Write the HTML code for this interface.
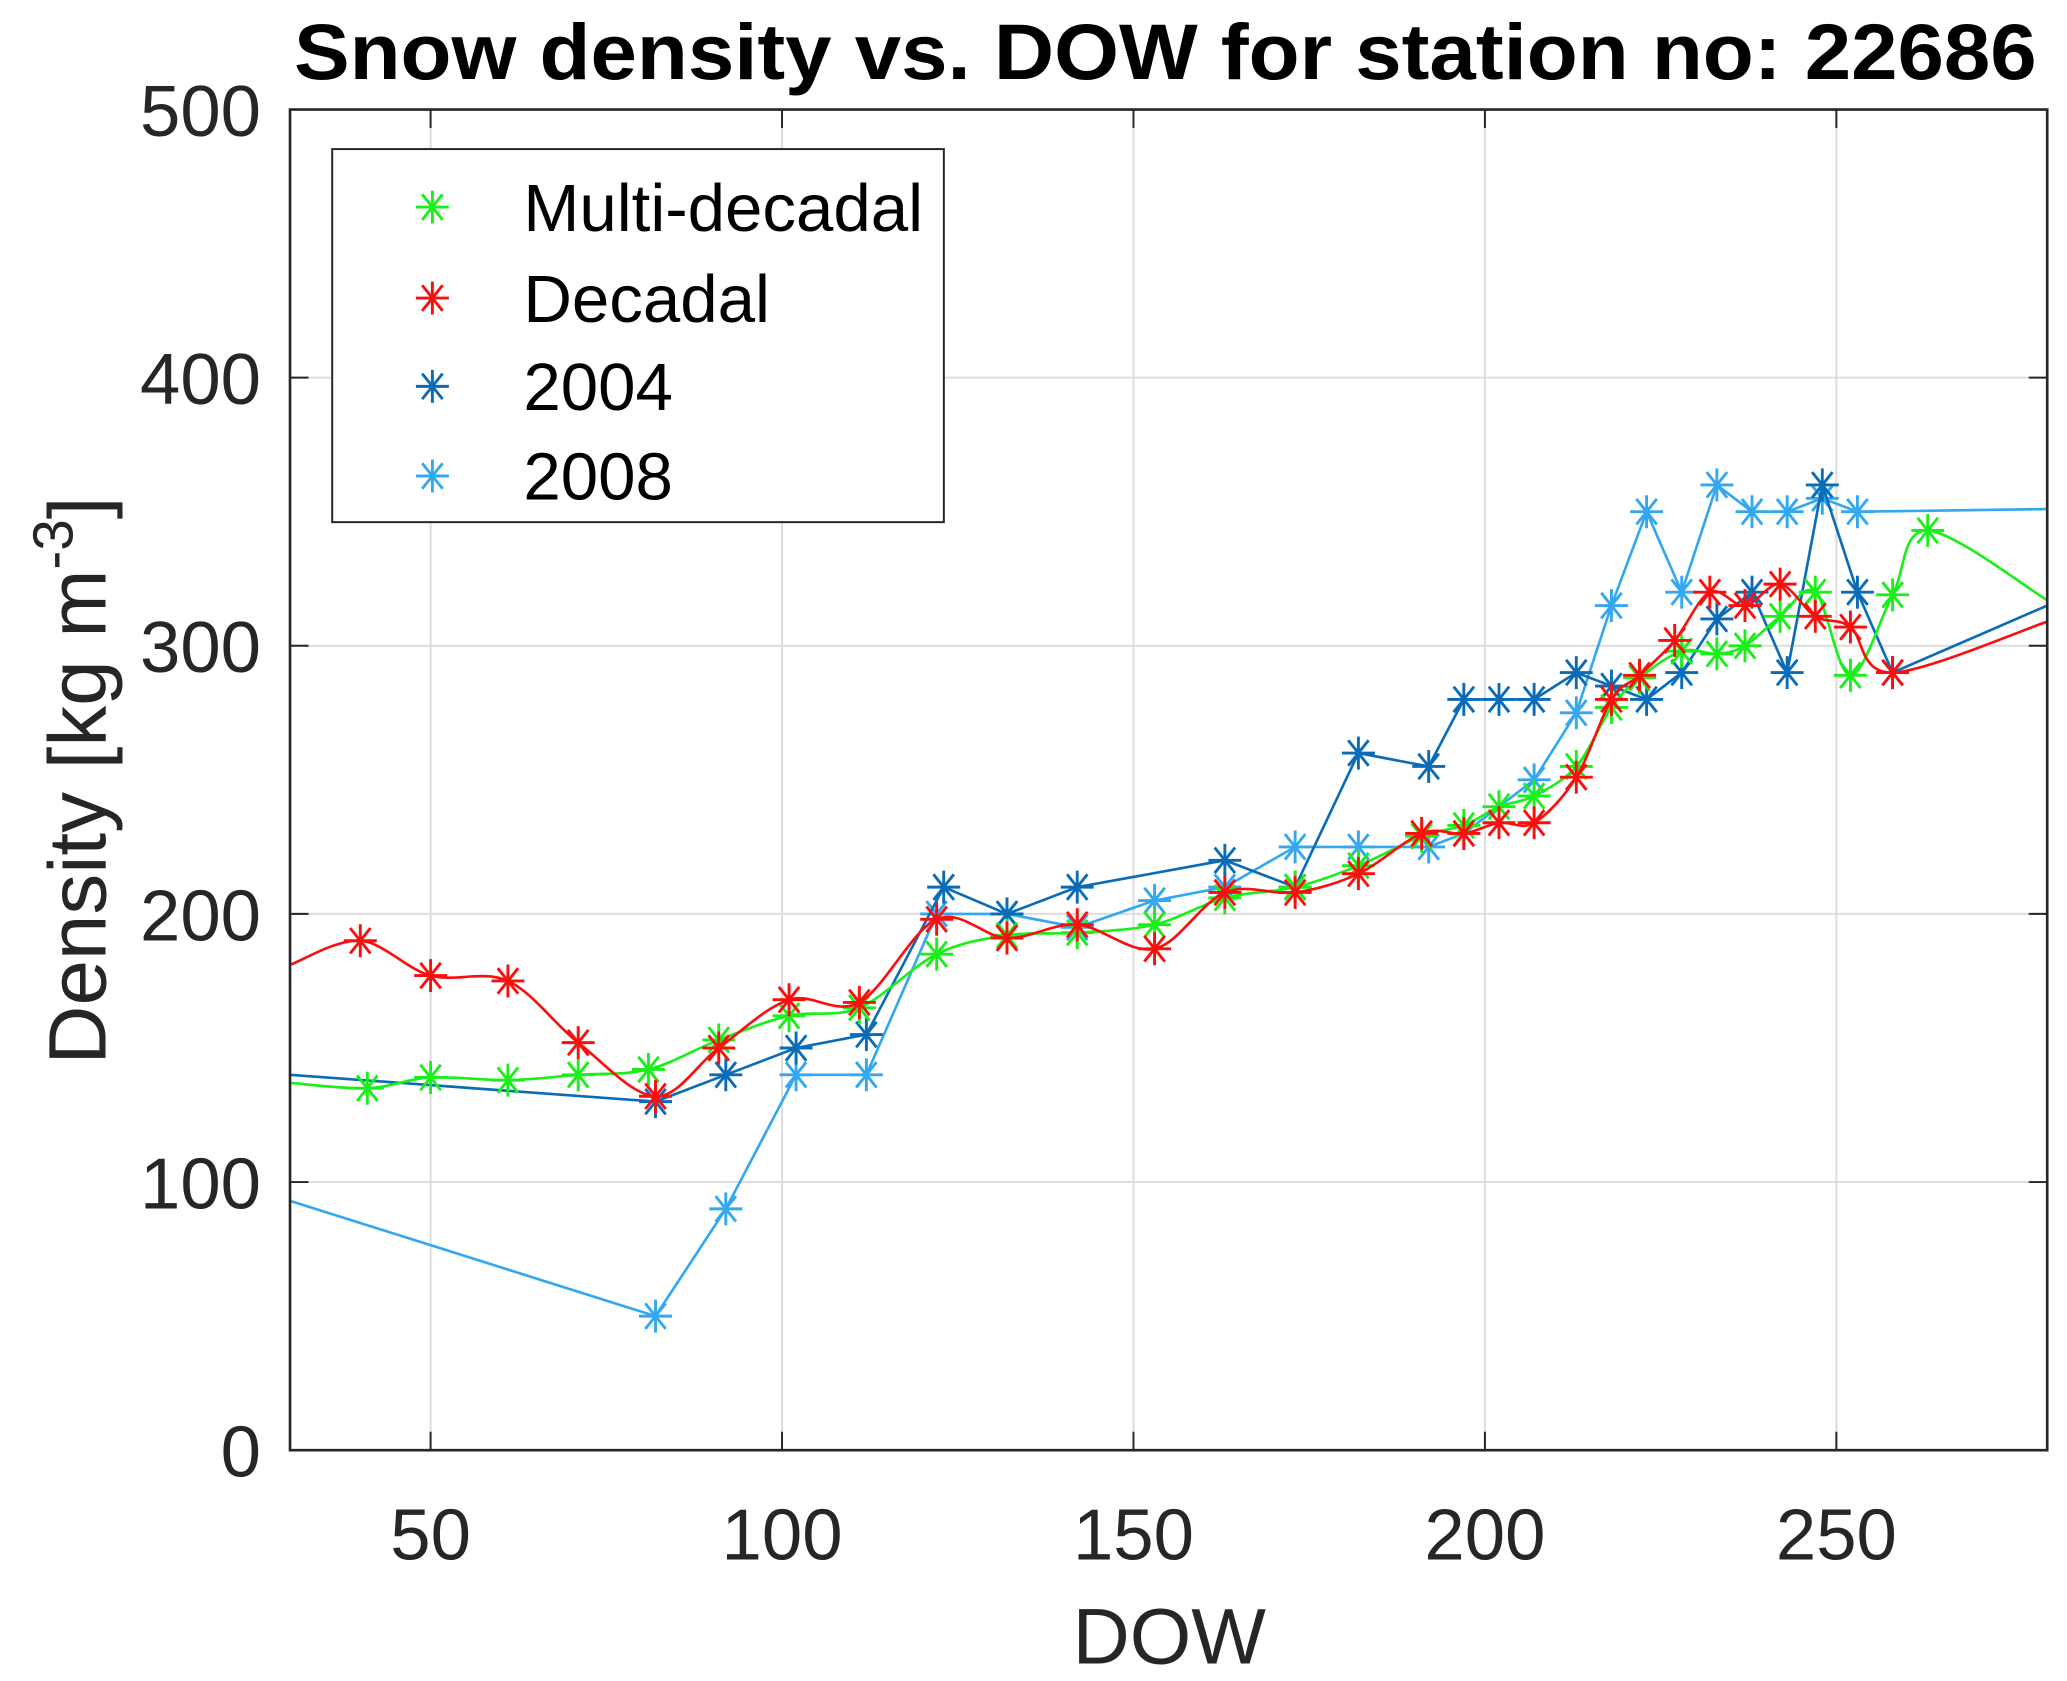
<!DOCTYPE html>
<html><head><meta charset="utf-8"><title>Snow density vs. DOW</title>
<style>html,body{margin:0;padding:0;background:#fff}svg{display:block}</style></head>
<body>
<svg id="chart" width="2067" height="1681" viewBox="0 0 1568 1275" xmlns="http://www.w3.org/2000/svg" font-family="'Liberation Sans', Arial, sans-serif">
<defs><clipPath id="plotclip"><rect x="220" y="83" width="1333" height="1017"/></clipPath></defs>
<rect x="0" y="0" width="1568" height="1275" fill="#fff"/>
<text x="223" y="60" textLength="1322" lengthAdjust="spacingAndGlyphs" font-size="60" font-weight="bold" fill="#000">Snow density vs. DOW for station no: 22686</text>
<g id="grid"></g>
<g id="series" clip-path="url(#plotclip)"></g>
<g id="axes"></g>
<text x="887" y="1262" text-anchor="middle" font-size="60" fill="#262626">DOW</text>
<text transform="translate(80,592) rotate(-90)" text-anchor="middle" font-size="62" fill="#262626">Density [kg m<tspan dy="-25" font-size="43">-3</tspan><tspan dy="25">]</tspan></text>
<g id="legend"></g>
</svg>
<script>
const xTicks = [50, 100, 150, 200, 250];
const yTicks = [0, 100, 200, 300, 400, 500];
const seriesNames = ["Multi-decadal", "Decadal", "2004", "2008"];
const seriesColors = ["#19f019", "#ff0d0d", "#0a6cb8", "#33a8f0"];
// Multi-decadal (smooth curve)
const mdX = [41,50,61,71,81,91,101,111,122,132,142,153,163,173,182,191,197,202,207,213,218,222,228,233,237,242,247,252,258,263];
const mdY = [135,139,138,140,142,153,162,165,185,192,193,196,206,210,218,229,233,240,244,255,277,288,298,297,300,311,320,289,319,343];
const mdEnds = [[30,137],[280,317]];
// Decadal (smooth curve)
const dcX = [40,50,61,71,82,91,101,111,122,132,142,153,163,173,182,191,197,202,207,213,218,222,227,232,237,242,247,252,258];
const dcY = [190,177,175,152,132,150,168,167,198,191,196,187,208,208,215,230,230,234,234,251,280,289,302,320,315,323,311,307,290];
const dcEnds = [[30,181],[280,309]];
// 2004
const y04X = [82,92,102,112,123,132,142,163,173,182,192,197,202,207,213,218,223,228,233,238,243,248,253,258];
const y04Y = [130,140,150,155,210,200,210,220,210,260,255,280,280,280,290,285,280,290,310,320,290,360,320,290];
const y04Ends = [[30,140],[280,315]];
// 2008
const y08X = [82,92,102,112,122,132,142,153,163,173,182,192,197,207,213,218,223,228,233,238,243,248,253];
const y08Y = [50,90,140,140,200,200,195,205,210,225,225,225,230,250,275,315,350,320,360,350,350,355,350];
const y08Ends = [[30,93],[280,351]];

const X0=220, X1=1553, Y0=1100, Y1=83, XMIN=30, XMAX=280, YMIN=0, YMAX=500;
const sx = v => X0 + (v-XMIN)/(XMAX-XMIN)*(X1-X0);
const sy = v => Y0 - (v-YMIN)/(YMAX-YMIN)*(Y0-Y1);
const NS = "http://www.w3.org/2000/svg";
function mk(tag, attrs, parent){const e=document.createElementNS(NS,tag);for(const k in attrs)e.setAttribute(k,attrs[k]);parent.appendChild(e);return e;}

const grid=document.getElementById('grid'), axes=document.getElementById('axes'), ser=document.getElementById('series'), leg=document.getElementById('legend');
xTicks.forEach(t=>{
  const g=mk('line',{x1:sx(t),x2:sx(t),y1:Y1,y2:Y0,stroke:'#dcdcdc','stroke-width':1.5},grid);
  
  
  mk('line',{x1:sx(t),x2:sx(t),y1:Y0,y2:Y0-14,stroke:'#262626','stroke-width':1.5},axes);
  mk('line',{x1:sx(t),x2:sx(t),y1:Y1,y2:Y1+14,stroke:'#262626','stroke-width':1.5},axes);
  const tx=mk('text',{x:sx(t),y:1183,'text-anchor':'middle','font-size':55,fill:'#262626'},axes);
  tx.textContent=t;
  
  
});
yTicks.forEach(t=>{
  const g=mk('line',{x1:X0,x2:X1,y1:sy(t),y2:sy(t),stroke:'#dcdcdc','stroke-width':1.5},grid);
  
  
  mk('line',{x1:X0,x2:X0+14,y1:sy(t),y2:sy(t),stroke:'#262626','stroke-width':1.5},axes);
  mk('line',{x1:X1,x2:X1-14,y1:sy(t),y2:sy(t),stroke:'#262626','stroke-width':1.5},axes);
  const tx=mk('text',{x:198,y:sy(t)+20,'text-anchor':'end','font-size':55,fill:'#262626'},axes);
  tx.textContent=t;
  
  
});
const box=mk('rect',{x:X0,y:Y1,width:X1-X0,height:Y0-Y1,fill:'none',stroke:'#262626','stroke-width':2},axes);



function star(cx,cy,r,color,parent,name){
  const g=mk('g',{stroke:color,'stroke-width':2.2},parent);
  
  
  mk('line',{x1:cx-r,x2:cx+r,y1:cy,y2:cy},g);
  mk('line',{x1:cx,x2:cx,y1:cy-r,y2:cy+r},g);
  const d=r*0.62;
  mk('line',{x1:cx-d,x2:cx+d,y1:cy-d*1.25,y2:cy+d*1.25},g);
  mk('line',{x1:cx-d,x2:cx+d,y1:cy+d*1.25,y2:cy-d*1.25},g);
}
function smoothPath(pts){
  let d=`M${pts[0][0]},${pts[0][1]}`;
  for(let i=0;i<pts.length-1;i++){
    const p0=pts[Math.max(0,i-1)],p1=pts[i],p2=pts[i+1],p3=pts[Math.min(pts.length-1,i+2)];
    const c1=[p1[0]+(p2[0]-p0[0])/6,p1[1]+(p2[1]-p0[1])/6];
    const c2=[p2[0]-(p3[0]-p1[0])/6,p2[1]-(p3[1]-p1[1])/6];
    d+=` C${c1[0]},${c1[1]} ${c2[0]},${c2[1]} ${p2[0]},${p2[1]}`;
  }
  return d;
}
function drawSeries(xs,ys,ends,color,smooth,name){
  const pts=[[sx(ends[0][0]),sy(ends[0][1])]];
  xs.forEach((x,i)=>pts.push([sx(x),sy(ys[i])]));
  pts.push([sx(ends[1][0]),sy(ends[1][1])]);
  const d=smooth?smoothPath(pts):'M'+pts.map(p=>p.join(',')).join(' L');
  const p=mk('path',{d:d,fill:'none',stroke:color,'stroke-width':2},ser);
  
  
  xs.forEach((x,i)=>star(sx(x),sy(ys[i]),12.5,color,ser,name+'-marker'));
}
drawSeries(y08X,y08Y,y08Ends,seriesColors[3],false,'series-2008');
drawSeries(y04X,y04Y,y04Ends,seriesColors[2],false,'series-2004');
drawSeries(mdX,mdY,mdEnds,seriesColors[0],true,'series-multi-decadal');
drawSeries(dcX,dcY,dcEnds,seriesColors[1],true,'series-decadal');

const lb=mk('rect',{x:252,y:113,width:464,height:283,fill:'#fff',stroke:'#262626','stroke-width':1.5},leg);


const legY=[157,226,293,361];
seriesNames.forEach((n,i)=>{
  star(328,legY[i],12.5,seriesColors[i],leg,'legend-marker');
  const t=mk('text',{x:397,y:legY[i]+18,'font-size':51,fill:'#000'},leg);
  t.textContent=n;
  
  
});
</script>
</body></html>
